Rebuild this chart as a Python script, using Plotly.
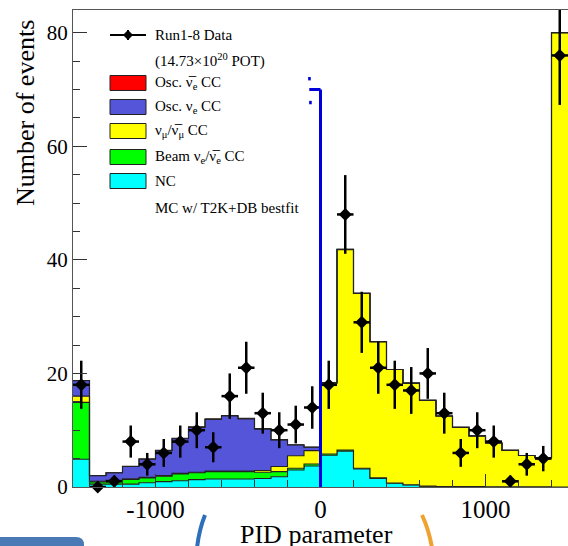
import numpy as np
import plotly.graph_objects as go

# ---------------- data ----------------
bin_edges = list(range(-1500, 1501, 100))
data_counts = [18, 0, 1, 8, 4, 6, 8, 10, 7, 16, 21, 13, 10, 11, 14,
               18, 48, 29, 21, 18, 17, 20, 13, 6, 10, 8, 1, 4, 5, 76]
nc = [4.9, 0.5, 0.5, 0.5, 0.75, 0.95, 1.1, 1.3, 1.4, 1.4, 1.4, 1.5, 1.8, 3.0, 3.7,
      5.6, 6.3, 3.2, 1.5, 0.65, 0.35, 0.1, 0.05, 0.05, 0.05, 0.0, 0.0, 0.0, 0.0, 0.0]
beam_nue = [10.0, 0.4, 0.6, 0.85, 0.85, 0.95, 1.2, 1.2, 1.3, 1.3, 1.3, 1.1, 0.9, 0.3, 0.35,
            0.2, 0.2, 0.1, 0.1, 0.05, 0.05, 0.05, 0.05, 0.05, 0.05, 0.05, 0.05, 0.05, 0.05, 0.0]
numu = [1.1, 0.1, 0.1, 0.1, 0.1, 0.1, 0.1, 0.1, 0.1, 0.1, 0.1, 0.3, 0.9, 2.2, 2.35,
        12.5, 35.3, 30.8, 24.0, 20.0, 17.9, 15.1, 12.4, 10.4, 8.9, 7.7, 6.4, 5.5, 5.1, 80.0]
osc_nue = [2.7, 1.0, 1.3, 2.15, 3.2, 4.4, 6.1, 7.9, 9.1, 9.7, 9.2, 7.3, 4.7, 1.9, 0.6,
           0.05, 0.05, 0.0, 0.0, 0.0, 0.0, 0.0, 0.0, 0.0, 0.0, 0.0, 0.0, 0.0, 0.0, 0.0]
osc_nuebar = [0.05, 0.02, 0.02, 0.03, 0.05, 0.05, 0.08, 0.1, 0.1, 0.1, 0.1, 0.08, 0.05, 0.03, 0.02,
              0.0, 0.0, 0.0, 0.0, 0.0, 0.0, 0.0, 0.0, 0.0, 0.0, 0.0, 0.0, 0.0, 0.0, 0.0]
cut_value = 0
cut_height = 70
cut_arrow_end = -68

# ---------------- figure geometry ----------------
W, H = 568, 546
ML, MR, MT, MB = 73, 0, 10, 59
PW, PH = W - ML - MR, H - MT - MB


def px_x(px):
    return (px - ML) / PW


def px_y(py):
    return (H - MB - py) / PH


FONT = "Liberation Serif, Times New Roman, serif"
OUT = "#222222"

fig = go.Figure()

centers = [(bin_edges[i] + bin_edges[i + 1]) / 2 for i in range(len(data_counts))]

stack = [
    ("NC", nc, "#00FFFF"),
    ("Beam", beam_nue, "#00FF00"),
    ("numu", numu, "#FFFF00"),
    ("Osc nue", osc_nue, "#5555DA"),
    ("Osc nuebar", osc_nuebar, "#FF0000"),
]
for name, vals, col in stack:
    fig.add_trace(go.Scatter(
        x=bin_edges, y=list(vals) + [vals[-1]],
        mode="lines", line=dict(shape="hv", color=OUT, width=1.1),
        stackgroup="one", fillcolor=col, name=name, showlegend=False,
        hoverinfo="skip"))

errs = [float(np.sqrt(v)) for v in data_counts]
fig.add_trace(go.Scatter(
    x=centers, y=data_counts, mode="markers",
    marker=dict(symbol="diamond", size=10, color="black"),
    error_y=dict(type="data", array=errs, color="black", thickness=2.5, width=0),
    error_x=dict(type="constant", value=50, color="black", thickness=2.5, width=0),
    cliponaxis=False, showlegend=False))

shapes = []
# cut line
shapes.append(dict(type="line", xref="x", yref="y", x0=cut_value, x1=cut_value, y0=0, y1=cut_height,
                   line=dict(color="#0000DD", width=3)))
shapes.append(dict(type="line", xref="x", yref="y", x0=cut_arrow_end, x1=cut_value, y0=cut_height, y1=cut_height,
                   line=dict(color="#0000DD", width=3)))
for (dx, dy) in [(-67, 71.9), (-61, 67.7)]:
    shapes.append(dict(type="rect", xref="x", yref="y", x0=dx - 8, x1=dx + 8, y0=dy - 0.3, y1=dy + 0.3,
                       fillcolor="#0000DD", line=dict(width=0)))

# legend
rows = [35, 60, 83, 107, 131, 157, 181, 208]
bx0, bx1 = 110, 146
shapes.append(dict(type="line", xref="paper", yref="paper", x0=px_x(bx0), x1=px_x(bx1),
                   y0=px_y(rows[0]), y1=px_y(rows[0]), line=dict(color="black", width=2)))
shapes.append(dict(type="line", xref="paper", yref="paper", x0=px_x(128), x1=px_x(128),
                   y0=px_y(rows[0] - 5), y1=px_y(rows[0] + 5), line=dict(color="black", width=2)))
dpath = "M {} {} L {} {} L {} {} L {} {} Z".format(
    px_x(128), px_y(rows[0] - 5), px_x(133), px_y(rows[0]), px_x(128), px_y(rows[0] + 5), px_x(123), px_y(rows[0]))
shapes.append(dict(type="path", xref="paper", yref="paper", path=dpath, fillcolor="black", line=dict(width=0)))

leg_cols = ["#FF0000", "#5555DA", "#FFFF00", "#00FF00", "#00FFFF"]
for i, c in enumerate(leg_cols):
    r = rows[2 + i]
    shapes.append(dict(type="rect", xref="paper", yref="paper", x0=px_x(bx0), x1=px_x(bx1),
                       y0=px_y(r - 7.5), y1=px_y(r + 7.5), fillcolor=c, line=dict(color="#222", width=1)))

nb = "\u03bd\u0305"
leg_text = [
    "Run1-8 Data",
    "(14.73\u00d710<sup>20</sup> POT)",
    "Osc. " + nb + "<sub>e</sub> CC",
    "Osc. \u03bd<sub>e</sub> CC",
    "\u03bd<sub>\u03bc</sub>/" + nb + "<sub>\u03bc</sub> CC",
    "Beam \u03bd<sub>e</sub>/" + nb + "<sub>e</sub> CC",
    "NC",
    "MC w/ T2K+DB bestfit",
]
annotations = []
for r, t in zip(rows, leg_text):
    annotations.append(dict(x=px_x(153), y=px_y(r), xref="paper", yref="paper", text=t,
                            showarrow=False, xanchor="left", yanchor="middle",
                            font=dict(family=FONT, size=15, color="black")))

annotations.append(dict(x=px_x(25), y=px_y(113), xref="paper", yref="paper", text="Number of events",
                        textangle=-90, showarrow=False, xanchor="center", yanchor="middle",
                        font=dict(family=FONT, size=26, color="black")))
annotations.append(dict(x=px_x(316), y=px_y(534), xref="paper", yref="paper", text="PID parameter",
                        showarrow=False, xanchor="center", yanchor="middle",
                        font=dict(family=FONT, size=26, color="black")))

# slide decorations
shapes.append(dict(type="path", xref="paper", yref="paper",
                   path="M {} {} L {} {} Q {} {} {} {} L {} {} L {} {} Z".format(
                       px_x(0), px_y(537), px_x(76), px_y(537), px_x(84), px_y(537), px_x(84), px_y(545),
                       px_x(84), px_y(560), px_x(0), px_y(560)),
                   fillcolor="#4A7AB5", line=dict(width=0)))
shapes.append(dict(type="path", xref="paper", yref="paper",
                   path="M {} {} Q {} {} {} {}".format(px_x(205), px_y(515), px_x(199), px_y(530), px_x(197), px_y(548)),
                   line=dict(color="#2D6FBA", width=4)))
shapes.append(dict(type="path", xref="paper", yref="paper",
                   path="M {} {} Q {} {} {} {}".format(px_x(422), px_y(515), px_x(429), px_y(530), px_x(432), px_y(548)),
                   line=dict(color="#F0A22E", width=4)))

fig.update_layout(
    width=W, height=H,
    margin=dict(l=ML, r=MR, t=MT, b=MB),
    paper_bgcolor="white", plot_bgcolor="white",
    showlegend=False,
    shapes=shapes, annotations=annotations,
    font=dict(family=FONT, color="black"),
)
fig.update_xaxes(range=[-1500, 1500], tickvals=[-1000, 0, 1000], ticktext=["-1000", "0", "1000"],
                 ticks="inside", ticklen=13, tickwidth=1, tickcolor="#333",
                 minor=dict(dtick=200, tick0=0, ticks="inside", ticklen=7, tickcolor="#333"),
                 showline=True, linecolor="#555", linewidth=1, mirror=True,
                 showgrid=False, zeroline=False, ticklabelstandoff=0,
                 tickfont=dict(family=FONT, size=25, color="black"))
fig.update_yaxes(range=[0, 84], tickvals=[0, 20, 40, 60, 80],
                 ticks="inside", ticklen=14, tickwidth=1, tickcolor="#333",
                 minor=dict(dtick=5, tick0=0, ticks="inside", ticklen=7, tickcolor="#333"),
                 showline=True, linecolor="#555", linewidth=1, mirror=True,
                 showgrid=False, zeroline=False,
                 tickfont=dict(family=FONT, size=21, color="black"))

fig.write_html("out.html")
